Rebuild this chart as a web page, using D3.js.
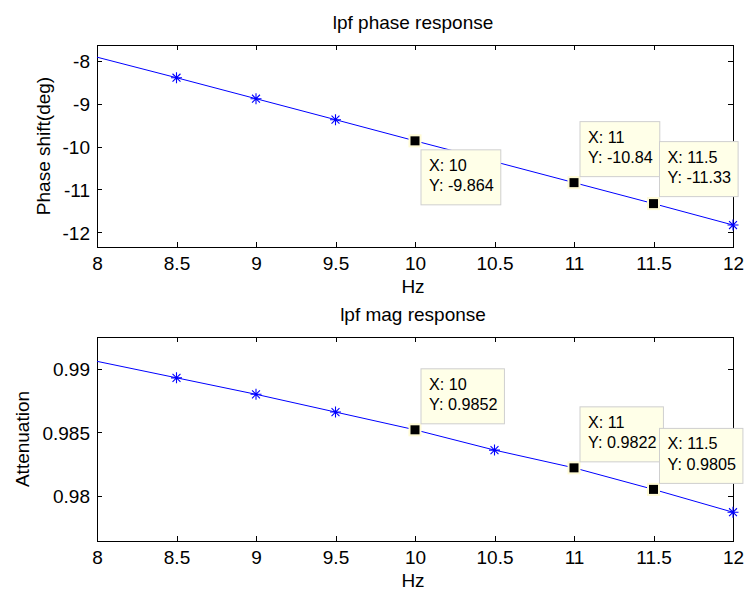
<!DOCTYPE html>
<html>
<head>
<meta charset="utf-8">
<script src="https://cdn.jsdelivr.net/npm/d3@7/dist/d3.min.js"></script>
<style>
  html, body { margin: 0; padding: 0; background: #ffffff; }
  svg { display: block; font-family: "Liberation Sans", Arial, Helvetica, sans-serif; }
</style>
</head>
<body>
<svg id="fig" width="745" height="589"></svg>
<script>
// Low-pass filter response samples (Hz)
const freq = [7.5, 8, 8.5, 9, 9.5, 10, 10.5, 11, 11.5, 12];
const phaseDeg = [-7.42, -7.91, -8.39, -8.88, -9.37, -9.864, -10.35, -10.84, -11.33, -11.83];
const attenuation = [0.9918, 0.9906, 0.9893, 0.9880, 0.9866, 0.9852, 0.9836, 0.9822, 0.9805, 0.9787];

// Tick values
const xTicks = [8, 8.5, 9, 9.5, 10, 10.5, 11, 11.5, 12];
const phaseTicks = [-12, -11, -10, -9, -8];
const attenTicks = [0.98, 0.985, 0.99];

// Frequencies pinned with data cursors, and their label text
const tipFreqs = [10, 11, 11.5];
const phaseTipLabels = ["-9.864", "-10.84", "-11.33"];
const attenTipLabels = ["0.9852", "0.9822", "0.9805"];

// Layout
const xDomain = [8, 12];
const panels = [
  {
    top: 45, bottom: 247, yDomain: [-12.343, -7.626],
    values: phaseDeg, yTicks: phaseTicks, yFmt: d => String(d),
    title: "lpf phase response", ylabel: "Phase shift(deg)", ylabelX: 43,
    tipLabels: phaseTipLabels, tipDy: [9, -61, -62]
  },
  {
    top: 337, bottom: 541, yDomain: [0.97643, 0.99252],
    values: attenuation, yTicks: attenTicks, yFmt: d => String(d),
    title: "lpf mag response", ylabel: "Attenuation", ylabelX: 22,
    tipLabels: attenTipLabels, tipDy: [-61, -61, -61]
  }
];
const left = 97, right = 733;
const FS = 19, TIP_FS = 16.2;

const svg = d3.select("#fig");
svg.append("rect").attr("width", 745).attr("height", 589).attr("fill", "#ffffff");

const x = d3.scaleLinear().domain(xDomain).range([left, right]);

// '*' marker: plus and cross overlaid
function starPath(r) {
  const d = r * 0.72;
  return `M${-r},0H${r}M0,${-r}V${r}M${-d},${-d}L${d},${d}M${-d},${d}L${d},${-d}`;
}

panels.forEach((p, pi) => {
  const y = d3.scaleLinear().domain(p.yDomain).range([p.bottom, p.top]);
  const g = svg.append("g");

  const clipId = "clip" + pi;
  svg.append("clipPath").attr("id", clipId)
    .append("rect").attr("x", left).attr("y", p.top)
    .attr("width", right - left).attr("height", p.bottom - p.top);

  // Axes: ticks point inward, mirrored on top/right
  const tickLen = 5;
  const xb = g.append("g").attr("transform", `translate(0,${p.bottom})`)
    .call(d3.axisBottom(x).tickValues(xTicks).tickSizeInner(-tickLen).tickSizeOuter(0)
      .tickPadding(9).tickFormat(d => String(d)));
  const xt = g.append("g").attr("transform", `translate(0,${p.top})`)
    .call(d3.axisTop(x).tickValues(xTicks).tickSizeInner(-tickLen).tickSizeOuter(0).tickFormat(""));
  const yl = g.append("g").attr("transform", `translate(${left},0)`)
    .call(d3.axisLeft(y).tickValues(p.yTicks).tickSizeInner(-tickLen).tickSizeOuter(0)
      .tickPadding(7).tickFormat(p.yFmt));
  const yr = g.append("g").attr("transform", `translate(${right},0)`)
    .call(d3.axisRight(y).tickValues(p.yTicks).tickSizeInner(-tickLen).tickSizeOuter(0).tickFormat(""));

  [xb, xt, yl, yr].forEach(a => {
    a.select(".domain").remove();
    a.selectAll(".tick line").attr("stroke", "#000").attr("stroke-width", 1).attr("shape-rendering", "crispEdges");
    a.selectAll(".tick text").attr("fill", "#000").attr("font-size", FS)
      .attr("font-family", "'Liberation Sans', Arial, sans-serif");
  });
  xb.selectAll(".tick text").attr("dy", null).attr("y", 22.5);
  yl.selectAll(".tick text").attr("dy", "0.36em");

  // Box
  g.append("rect").attr("x", left).attr("y", p.top)
    .attr("width", right - left).attr("height", p.bottom - p.top)
    .attr("fill", "none").attr("stroke", "#000").attr("stroke-width", 1)
    .attr("shape-rendering", "crispEdges");

  // Series line
  const pts = freq.map((f, i) => [f, p.values[i]]);
  g.append("path").datum(pts)
    .attr("clip-path", `url(#${clipId})`)
    .attr("fill", "none").attr("stroke", "#0000ff").attr("stroke-width", 1)
    .attr("d", d3.line().x(d => x(d[0])).y(d => y(d[1])));

  // Markers for the samples past the left limit
  g.selectAll("path.star").data(pts.filter(d => d[0] > xDomain[0] && d[0] <= xDomain[1]))
    .join("path").attr("class", "star")
    .attr("transform", d => `translate(${x(d[0])},${y(d[1])})`)
    .attr("d", starPath(5.5))
    .attr("fill", "none").attr("stroke", "#0000ff").attr("stroke-width", 1.1);

  // Title and labels
  g.append("text").attr("x", (left + right) / 2 - 2).attr("y", p.top - 16)
    .attr("text-anchor", "middle").attr("font-size", FS).text(p.title);
  g.append("text").attr("x", (left + right) / 2 - 2).attr("y", p.bottom + 45.5)
    .attr("text-anchor", "middle").attr("font-size", FS).text("Hz");
  g.append("text")
    .attr("transform", `translate(${p.ylabelX + 6.5},${(p.top + p.bottom) / 2}) rotate(-90)`)
    .attr("text-anchor", "middle").attr("font-size", FS).text(p.ylabel);

  // Data cursors
  tipFreqs.forEach(f => {
    const i = freq.indexOf(f);
    const cx = x(f), cy = y(p.values[i]);
    g.append("rect").attr("x", cx - 5.5).attr("y", cy - 5.5).attr("width", 11).attr("height", 11)
      .attr("fill", "#000").attr("stroke", "#fffbd6").attr("stroke-width", 2);
  });
  tipFreqs.forEach((f, k) => {
    const i = freq.indexOf(f);
    const cx = x(f), cy = y(p.values[i]);
    const bx = cx + 6, by = cy + p.tipDy[k];
    const tg = g.append("g");
    const box = tg.append("rect").attr("x", bx).attr("y", by).attr("height", 55)
      .attr("fill", "#ffffe8").attr("stroke", "#cfcfcf").attr("stroke-width", 1);
    const t1 = tg.append("text").attr("x", bx + 8).attr("y", by + 21)
      .attr("font-size", TIP_FS).text("X: " + f);
    const t2 = tg.append("text").attr("x", bx + 8).attr("y", by + 41.5)
      .attr("font-size", TIP_FS).text("Y: " + p.tipLabels[k]);
    const w = Math.max(t1.node().getComputedTextLength(), t2.node().getComputedTextLength());
    box.attr("width", w + 15);
  });
});
</script>
</body>
</html>
